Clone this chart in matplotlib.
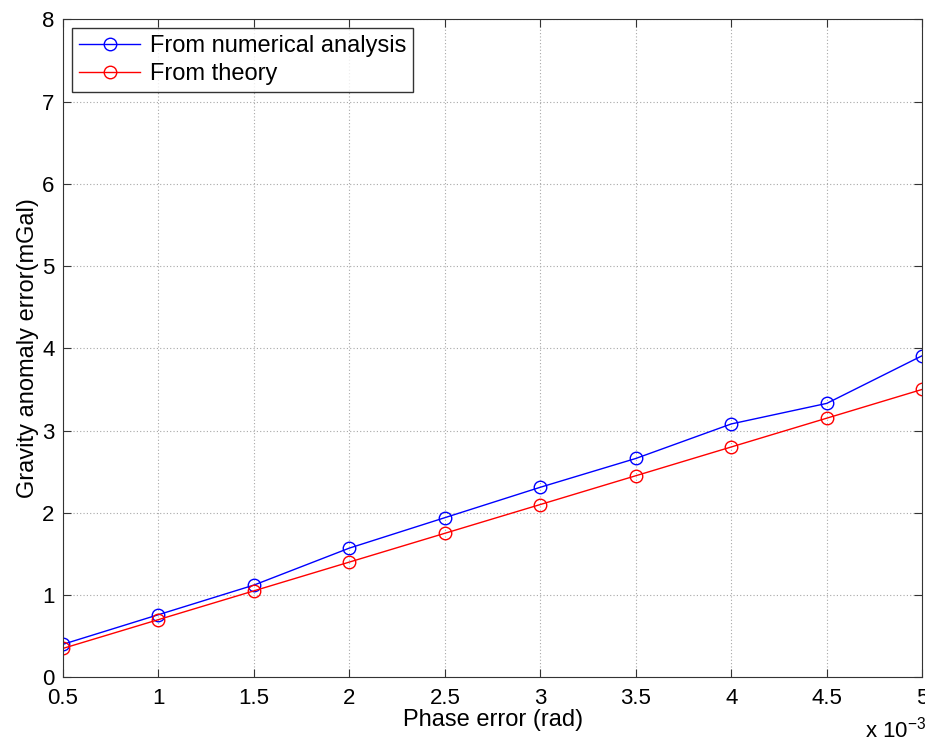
import matplotlib
matplotlib.use("Agg")
import matplotlib.pyplot as plt  # noqa: E402

plt.rcParams["font.family"] = ["Liberation Sans", "DejaVu Sans"]

# phase error in units of 1e-3 rad
phase_err = [0.5, 1.0, 1.5, 2.0, 2.5, 3.0, 3.5, 4.0, 4.5, 5.0]
numerical = [0.40, 0.76, 1.12, 1.57, 1.94, 2.31, 2.66, 3.08, 3.33, 3.91]
theory = [0.35, 0.70, 1.05, 1.40, 1.75, 2.10, 2.45, 2.80, 3.15, 3.50]

xticks = [0.5, 1, 1.5, 2, 2.5, 3, 3.5, 4, 4.5, 5]
xtick_labels = ["0.5", "1", "1.5", "2", "2.5", "3", "3.5", "4", "4.5", "5"]
yticks = list(range(0, 9))

fig = plt.figure(figsize=(9.25, 7.45), dpi=100)
ax = fig.add_axes([0.068, 0.091, 0.929, 0.883])

ax.plot(phase_err, numerical, color="blue", lw=1.0, marker="o", ms=9,
        mfc="none", mew=1.0, label="From numerical analysis")
ax.plot(phase_err, theory, color="red", lw=1.0, marker="o", ms=9,
        mfc="none", mew=1.0, label="From theory")

ax.set_xlim(0.5, 5)
ax.set_ylim(0, 8)
ax.set_xticks(xticks)
ax.set_xticklabels(xtick_labels)
ax.set_yticks(yticks)
ax.grid(True, ls=(0, (1, 2)), color="#a8a8a8", lw=0.8)
ax.tick_params(direction="in", top=True, right=True, labelsize=16,
               length=6, color="#333333")
ax.tick_params(axis="x", pad=8)
ax.tick_params(axis="y", pad=6)
for sp in ax.spines.values():
    sp.set_color("#333333")

ax.set_xlabel("Phase error (rad)", fontsize=17, labelpad=0)
ax.set_ylabel("Gravity anomaly error(mGal)", fontsize=17, labelpad=2)
fig.text(0.935, 0.003, r"x 10$^{\mathregular{-3}}$", fontsize=16,
         ha="left", va="bottom")

leg = ax.legend(loc="upper left", fontsize=17, frameon=True, fancybox=False,
                edgecolor="black", borderaxespad=0.38, handlelength=2.6,
                borderpad=0.3, labelspacing=0.25, handletextpad=0.4)
leg.get_frame().set_linewidth(1.0)

fig.savefig("out.png", dpi=100)
